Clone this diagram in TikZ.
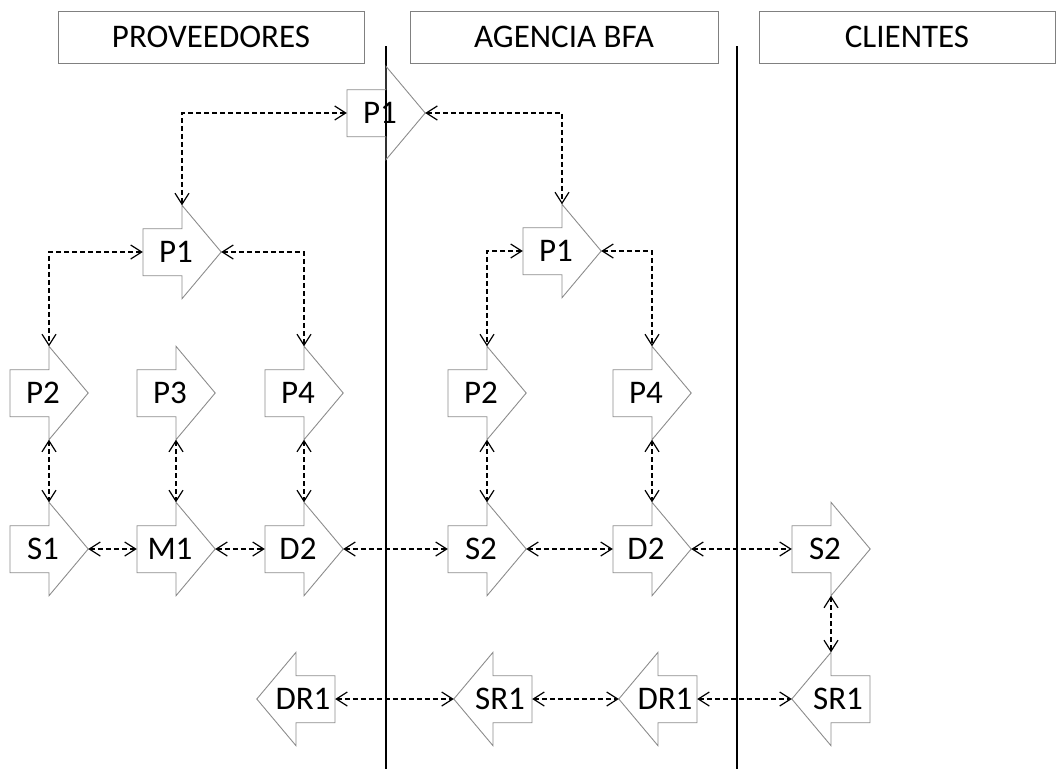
\documentclass[tikz,border=0pt]{standalone}
\usepackage{fontspec}
\setmainfont{Carlito}
\usetikzlibrary{arrows.meta}

\tikzset{
  % invisible box spanning a whole block arrow; its anchors give tail, tip and apexes
  blk/.style={draw=none, inner sep=0pt, minimum width=78pt, minimum height=93pt,
              font=\fontsize{33}{36}\selectfont},
  outline/.style={draw=black!45, line width=0.9pt},
  barb/.tip={Straight Barb[length=11pt,width=14pt,line width=1.2pt]},
  conn/.style={draw=black, line width=1.2pt, dash pattern=on 5pt off 3pt, barb-barb},
  divider/.style={draw=black, line width=1.8pt},
  header/.style={draw=black!50, line width=0.8pt, inner sep=0pt,
                 minimum height=52pt, font=\fontsize{33}{36}\selectfont},
}

% right-pointing block arrow: name, centre, label
\newcommand\rblk[3]{%
  \node[blk] (#1) at (#2) {#3\hspace*{12pt}};
  \draw[outline] (#1.north) -- (#1.east) -- (#1.south) -- ++(0,-23) -- ++(-39,0)
     -- ++(0,-47) -- ++(39,0) -- cycle;}
% left-pointing block arrow: name, centre, label
\newcommand\lblk[3]{%
  \node[blk] (#1) at (#2) {\hspace*{14pt}#3};
  \draw[outline] (#1.north) -- (#1.west) -- (#1.south) -- ++(0,-23) -- ++(39,0)
     -- ++(0,-47) -- ++(-39,0) -- cycle;}

\begin{document}
\begin{tikzpicture}[x=1pt,y=-1pt]
\useasboundingbox (0,0) rectangle (1057,769);

% column headings
\node[header, minimum width=306pt] (hprov) at (211,37) {PROVEEDORES};
\node[header, minimum width=308pt] (hagen) at (564,37) {AGENCIA BFA};
\node[header, minimum width=296pt] (hcli)  at (907,37) {CLIENTES};

% column dividers
\coordinate (d1top) at (386,46);
\coordinate (d1bot) at (386,769);
\coordinate (d2top) at (737,46);
\coordinate (d2bot) at (737,769);
\draw[divider] (d1top) -- (d1bot);
\draw[divider] (d2top) -- (d2bot);

% top level
\rblk{p1t}{386,113}{P1}
% second level
\rblk{p1l}{182,252}{P1}
\rblk{p1r}{562,251}{P1}
% third level
\rblk{p2l}{49,393}{P2}
\rblk{p3}{176,393}{P3}
\rblk{p4l}{304,393}{P4}
\rblk{p2r}{487,393}{P2}
\rblk{p4r}{652,393}{P4}
% fourth level
\rblk{s1}{49,549}{S1}
\rblk{m1}{176,549}{M1}
\rblk{d2l}{304,549}{D2}
\rblk{s2a}{487,549}{S2}
\rblk{d2a}{652,549}{D2}
\rblk{s2c}{831,549}{S2}
% return flow
\lblk{dr1l}{296,699}{DR1}
\lblk{sr1a}{493,699}{SR1}
\lblk{dr1a}{658,699}{DR1}
\lblk{sr1c}{831,699}{SR1}

% hierarchy links
\draw[conn] (p1t.west) -| (p1l.north);
\draw[conn] (p1t.east) -| (p1r.north);
\draw[conn] (p1l.west) -| (p2l.north);
\draw[conn] (p1l.east) -| (p4l.north);
\draw[conn] (p1r.west) -| (p2r.north);
\draw[conn] (p1r.east) -| (p4r.north);

% vertical links
\draw[conn] (p2l.south) -- (s1.north);
\draw[conn] (p3.south) -- (m1.north);
\draw[conn] (p4l.south) -- (d2l.north);
\draw[conn] (p2r.south) -- (s2a.north);
\draw[conn] (p4r.south) -- (d2a.north);
\draw[conn] (s2c.south) -- (sr1c.north);

% forward chain
\draw[conn] (s1.east) -- (m1.west);
\draw[conn] (m1.east) -- (d2l.west);
\draw[conn] (d2l.east) -- (s2a.west);
\draw[conn] (s2a.east) -- (d2a.west);
\draw[conn] (d2a.east) -- (s2c.west);

% return chain
\draw[conn] (dr1l.east) -- (sr1a.west);
\draw[conn] (sr1a.east) -- (dr1a.west);
\draw[conn] (dr1a.east) -- (sr1c.west);
\end{tikzpicture}
\end{document}
